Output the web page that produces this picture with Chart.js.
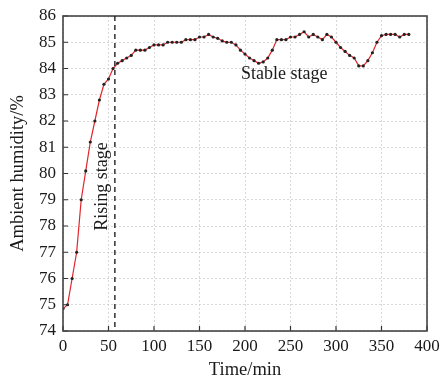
<!DOCTYPE html>
<html>
<head>
<meta charset="utf-8">
<script src="https://cdn.jsdelivr.net/npm/chart.js@4.4.0/dist/chart.umd.min.js"></script>
<style>
  html, body { margin: 0; padding: 0; background: #fff; }
  #wrap { width: 441px; height: 381px; }
</style>
</head>
<body>
<div id="wrap"><canvas id="humidity" width="441" height="381"></canvas></div>
<script>
// sampling times (min) and humidity readings (%)
const times = [
  0, 5, 10, 15, 20, 25, 30, 35, 40, 45, 50, 55, 60, 65, 70, 75, 80, 85, 90, 95,
  100, 105, 110, 115, 120, 125, 130, 135, 140, 145, 150, 155, 160, 165, 170, 175, 180, 185, 190, 195,
  200, 205, 210, 215, 220, 225, 230, 235, 240, 245, 250, 255, 260, 265, 270, 275, 280, 285, 290, 295,
  300, 305, 310, 315, 320, 325, 330, 335, 340, 345, 350, 355, 360, 365, 370, 375, 380
];
const humidity = [
  74.85, 75.0, 76.0, 77.0, 79.0, 80.1, 81.2, 82.0, 82.8, 83.4, 83.6, 84.0, 84.2, 84.3, 84.4, 84.5, 84.7, 84.7, 84.7, 84.8,
  84.9, 84.9, 84.9, 85.0, 85.0, 85.0, 85.0, 85.1, 85.1, 85.1, 85.2, 85.2, 85.3, 85.2, 85.15, 85.05, 85.0, 85.0, 84.9, 84.7,
  84.55, 84.4, 84.3, 84.2, 84.25, 84.4, 84.7, 85.1, 85.1, 85.1, 85.2, 85.2, 85.3, 85.4, 85.2, 85.3, 85.2, 85.1, 85.3, 85.2,
  85.0, 84.8, 84.65, 84.5, 84.4, 84.1, 84.1, 84.3, 84.6, 85.0, 85.25, 85.3, 85.3, 85.3, 85.2, 85.3, 85.3
];
const stageSplit = 57;   // end of rising stage (min)
const stageLabels = ['Rising stage', 'Stable stage'];

const serif = '"Liberation Serif", "Times New Roman", serif';
const ink = '#1a1a1a';

// box, inward ticks, stage divider and stage labels
const decorations = {
  id: 'decorations',
  afterDraw(chart) {
    const { ctx, chartArea: a, scales: { x, y } } = chart;
    ctx.save();

    // inward tick marks
    ctx.strokeStyle = '#333';
    ctx.lineWidth = 1.2;
    ctx.beginPath();
    x.ticks.forEach(t => {
      const px = x.getPixelForValue(t.value);
      ctx.moveTo(px, a.bottom);
      ctx.lineTo(px, a.bottom - 5);
    });
    y.ticks.forEach(t => {
      const py = y.getPixelForValue(t.value);
      ctx.moveTo(a.left, py);
      ctx.lineTo(a.left + 5, py);
    });
    ctx.stroke();

    // frame
    ctx.lineWidth = 1.6;
    ctx.strokeStyle = '#444';
    ctx.strokeRect(a.left, a.top, a.right - a.left, a.bottom - a.top);

    // stage divider
    const sx = x.getPixelForValue(stageSplit);
    ctx.setLineDash([5, 4]);
    ctx.lineWidth = 1.4;
    ctx.strokeStyle = '#222';
    ctx.beginPath();
    ctx.moveTo(sx, a.top);
    ctx.lineTo(sx, a.bottom);
    ctx.stroke();
    ctx.setLineDash([]);

    // stage labels
    ctx.fillStyle = ink;
    ctx.font = '18px ' + serif;
    ctx.textAlign = 'center';
    ctx.textBaseline = 'middle';
    ctx.save();
    ctx.translate(x.getPixelForValue(42.6), y.getPixelForValue(79.5));
    ctx.rotate(-Math.PI / 2);
    ctx.fillText(stageLabels[0], 0, 0);
    ctx.restore();
    ctx.fillText(stageLabels[1], x.getPixelForValue(243), y.getPixelForValue(83.77));

    ctx.restore();
  }
};

new Chart(document.getElementById('humidity'), {
  type: 'line',
  data: {
    datasets: [{
      data: times.map((t, i) => ({ x: t, y: humidity[i] })),
      borderColor: '#e0262b',
      borderWidth: 1.2,
      pointRadius: 1.6,
      pointBackgroundColor: '#222',
      pointBorderWidth: 0,
      tension: 0
    }]
  },
  options: {
    responsive: false,
    animation: false,
    layout: { padding: { top: 16, right: 14, left: 0, bottom: 0 } },
    plugins: { legend: { display: false }, tooltip: { enabled: false } },
    scales: {
      x: {
        type: 'linear',
        min: 0,
        max: 400,
        afterFit(s) { s.height = 50; s.paddingLeft = 0; s.paddingRight = 0; },
        ticks: { stepSize: 50, padding: 5, color: ink, font: { family: serif, size: 17 } },
        grid: { drawTicks: false, color: '#cfcfcf', lineWidth: 0.8 },
        border: { display: false, dash: [2, 2] },
        title: { display: true, text: 'Time/min', color: ink, font: { family: serif, size: 18.5 }, padding: { top: 0, bottom: 0 } }
      },
      y: {
        min: 74,
        max: 86,
        afterFit(s) { s.width = 63; s.paddingTop = 0; s.paddingBottom = 0; },
        ticks: { stepSize: 1, padding: 7, color: ink, font: { family: serif, size: 17 } },
        grid: { drawTicks: false, color: '#cfcfcf', lineWidth: 0.8 },
        border: { display: false, dash: [2, 2] },
        title: { display: true, text: 'Ambient humidity/%', color: ink, font: { family: serif, size: 18.5 }, padding: { top: 7, bottom: 0 } }
      }
    }
  },
  plugins: [decorations]
});
</script>
</body>
</html>
